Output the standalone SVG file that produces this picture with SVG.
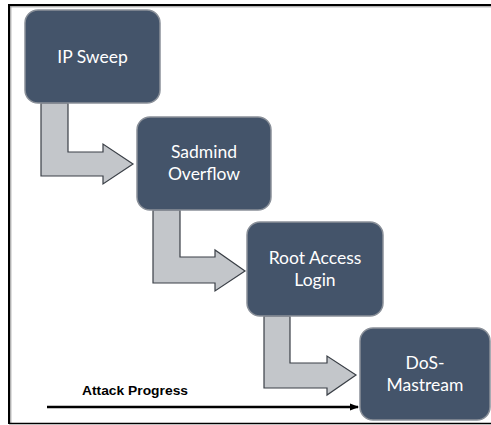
<svg xmlns="http://www.w3.org/2000/svg" width="491" height="425" viewBox="0 0 491 425">
<defs>
<style>
.box{fill:#44546a;stroke:#8a9099;stroke-width:1.5}
.lbl{font-family:Lato,"Open Sans","Liberation Sans",sans-serif;font-size:17.5px;fill:#ffffff;text-anchor:middle}
.arr{fill:#c3c6ca;stroke:#3a3f46;stroke-width:1.2;stroke-linejoin:miter}
.frame{stroke:#000;stroke-width:2;fill:none}
</style>
<marker id="ah" markerWidth="9" markerHeight="9" refX="8" refY="4.5" orient="auto" markerUnits="userSpaceOnUse">
<path d="M0,1 L9,4.5 L0,8 Z" fill="#000"/>
</marker>
</defs>
<rect width="491" height="425" fill="#ffffff"/>
<g id="frame">
<line class="frame" x1="9" y1="5" x2="491" y2="5"/>
<line x1="10" y1="6.8" x2="491" y2="6.8" stroke="#909090" stroke-width="1"/>
<line class="frame" x1="9" y1="4" x2="9" y2="424"/>
<line x1="10.8" y1="6" x2="10.8" y2="423" stroke="#909090" stroke-width="1"/>
<line x1="9" y1="423.5" x2="491" y2="423.5" stroke="#000" stroke-width="1.5"/>
</g>
<g id="connectors">
<path class="arr" d="M41,103 L68,103 L68,152 L103,152 L103,144 L133,164 L103,184 L103,176 L41,176 Z"/>
<path class="arr" d="M153,210 L180,210 L180,257 L215,257 L215,250 L245,271 L215,291 L215,283 L153,283 Z"/>
<path class="arr" d="M264,316 L290,316 L290,363 L327,363 L327,356 L356,375 L327,395 L327,388 L264,388 Z"/>
<line x1="47" y1="407" x2="358" y2="407" stroke="#000" stroke-width="2.5" marker-end="url(#ah)"/>
<text x="82" y="395" font-family="Liberation Sans,Arial,sans-serif" font-size="13.5" font-weight="bold" fill="#000" textLength="106" lengthAdjust="spacingAndGlyphs">Attack Progress</text>
</g>
<g id="ip-sweep">
<rect class="box" x="25" y="10" width="135" height="93" rx="13"/>
<text class="lbl" x="92.5" y="63">IP Sweep</text>
</g>
<g id="sadmind-overflow">
<rect class="box" x="137" y="117" width="134" height="93" rx="13"/>
<text class="lbl" x="204" y="158">Sadmind</text>
<text class="lbl" x="204" y="179.5">Overflow</text>
</g>
<g id="root-access-login">
<rect class="box" x="247" y="222" width="136" height="94" rx="13"/>
<text class="lbl" x="315" y="264">Root Access</text>
<text class="lbl" x="315" y="285.5">Login</text>
</g>
<g id="dos-mastream">
<rect class="box" x="360" y="328" width="130" height="92" rx="13"/>
<text class="lbl" x="425" y="369">DoS-</text>
<text class="lbl" x="425" y="390.5">Mastream</text>
</g>
</svg>
